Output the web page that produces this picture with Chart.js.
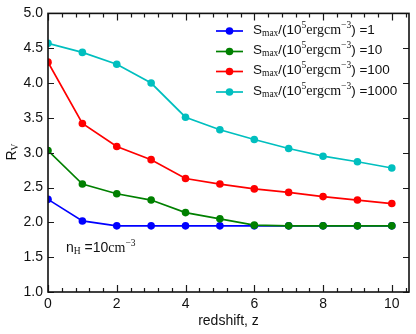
<!DOCTYPE html>
<html>
<head>
<meta charset="utf-8">
<script src="https://cdn.jsdelivr.net/npm/chart.js@4/dist/chart.umd.min.js"></script>
<style>
html,body{margin:0;padding:0;background:#fff;}
#wrap{position:relative;width:416px;height:334px;}
</style>
</head>
<body>
<div id="wrap"><canvas id="c" width="416" height="334"></canvas></div>
<script>
const redshift = [0,1,2,3,4,5,6,7,8,9,10];
const rvS1    = [2.33,2.02,1.95,1.95,1.95,1.95,1.95,1.95,1.95,1.95,1.95];
const rvS10   = [3.03,2.55,2.41,2.32,2.14,2.05,1.96,1.95,1.95,1.95,1.95];
const rvS100  = [4.30,3.42,3.09,2.90,2.63,2.55,2.48,2.43,2.37,2.32,2.27];
const rvS1000 = [4.57,4.44,4.27,4.00,3.51,3.33,3.19,3.06,2.95,2.87,2.78];
const sValues = ['1','10','100','1000'];
const xTickLabels = [0,2,4,6,8,10];
const yTickLabels = [1.0,1.5,2.0,2.5,3.0,3.5,4.0,4.5,5.0];
const colors = ['#0000ff','#008000','#ff0000','#00bfbf'];

const SANS = '"Liberation Sans", Arial, sans-serif';
const SERIF = '"Liberation Serif", "Times New Roman", serif';

function mk(i, data){
  return {
    label: 'S_max/(10^5 ergcm^-3) =' + sValues[i],
    data: redshift.map((z,k)=>({x:z,y:data[k]})),
    borderColor: colors[i], backgroundColor: colors[i],
    borderWidth: 1.7, pointRadius: 3.8, pointHoverRadius: 3.8,
    pointBorderWidth: 0, tension: 0, order: 4-i
  };
}

function rich(ctx, x, y, segs){
  ctx.textBaseline = 'middle';
  ctx.textAlign = 'left';
  for (const s of segs){
    ctx.font = s.f;
    ctx.fillText(s.t, x, y + (s.dy||0));
    x += ctx.measureText(s.t).width;
  }
  return x;
}

const decor = {
  id:'decor',
  afterDraw(chart){
    const ctx = chart.ctx;
    const a = chart.chartArea;
    const xs = chart.scales.x, ys = chart.scales.y;
    ctx.save();
    ctx.strokeStyle = '#1a1a1a';
    ctx.lineWidth = 1.2;
    ctx.beginPath();
    for (let k=0;k<=26;k++){
      const v = k*0.4;
      const px = Math.round(xs.getPixelForValue(v))+0.5;
      const major = (k%5===0);
      const len = major ? 7 : 4;
      ctx.moveTo(px, a.bottom); ctx.lineTo(px, a.bottom-len);
      ctx.moveTo(px, a.top); ctx.lineTo(px, a.top+len);
    }
    for (const v of yTickLabels){
      const py = Math.round(ys.getPixelForValue(v))+0.5;
      ctx.moveTo(a.left, py); ctx.lineTo(a.left+6, py);
      ctx.moveTo(a.right, py); ctx.lineTo(a.right-6, py);
    }
    ctx.stroke();
    ctx.lineWidth = 1.6;
    ctx.strokeStyle = '#111';
    ctx.strokeRect(a.left, a.top, a.right-a.left, a.bottom-a.top);

    // legend
    const rows = [31, 51.5, 71.5, 92];
    for (let i=0;i<4;i++){
      const y = rows[i];
      ctx.strokeStyle = colors[i];
      ctx.lineWidth = 1.7;
      ctx.beginPath(); ctx.moveTo(216,y); ctx.lineTo(243,y); ctx.stroke();
      ctx.fillStyle = colors[i];
      ctx.beginPath(); ctx.arc(229.5,y,3.8,0,Math.PI*2); ctx.fill();
      ctx.fillStyle = '#111';
      rich(ctx, 253, y-1, [
        {t:'S', f:'13.5px '+SANS},
        {t:'max', f:'9.5px '+SERIF, dy:3},
        {t:'/(10', f:'13.5px '+SANS},
        {t:'5', f:'9.5px '+SERIF, dy:-5},
        {t:'ergcm', f:'14px '+SERIF},
        {t:'\u22123', f:'9.5px '+SERIF, dy:-5},
        {t:') =' + sValues[i], f:'13.5px '+SANS}
      ]);
    }
    // annotation
    ctx.fillStyle = '#111';
    rich(ctx, 66, 248, [
      {t:'n', f:'14px '+SANS},
      {t:'H', f:'9.5px '+SERIF, dy:3},
      {t:' =10', f:'14px '+SANS},
      {t:'cm', f:'14px '+SERIF},
      {t:'\u22123', f:'9.5px '+SERIF, dy:-5}
    ]);
    // x title
    ctx.font = '14px '+SANS;
    ctx.textAlign = 'center';
    ctx.textBaseline = 'middle';
    ctx.fillText('redshift, z', (a.left+a.right)/2, 321);
    // y title
    ctx.translate(12, 152);
    ctx.rotate(-Math.PI/2);
    ctx.font='14px '+SANS;
    const wR = ctx.measureText('R').width;
    ctx.font = '9.5px '+SERIF;
    const wV = ctx.measureText('V').width;
    rich(ctx, -(wR+wV)/2, 0, [
      {t:'R', f:'14px '+SANS},
      {t:'V', f:'9.5px '+SERIF, dy:3}
    ]);
    ctx.restore();
  }
};

new Chart(document.getElementById('c'), {
  type:'line',
  data:{ datasets:[mk(0,rvS1), mk(1,rvS10), mk(2,rvS100), mk(3,rvS1000)] },
  options:{
    responsive:false, animation:false,
    layout:{padding:{top:13,right:7,left:0,bottom:0}},
    plugins:{legend:{display:false}, tooltip:{enabled:false}},
    scales:{
      x:{
        type:'linear', min:0, max:10.5,
        grid:{display:false, drawTicks:false}, border:{display:false},
        afterBuildTicks(s){ s.ticks = xTickLabels.map(v=>({value:v})); },
        afterFit(s){ s.height = 42; },
        ticks:{ padding:4, color:'#111', font:{family:SANS,size:14}, maxRotation:0, autoSkip:false,
          callback:(v)=>String(v) }
      },
      y:{
        type:'linear', min:1, max:5,
        grid:{display:false, drawTicks:false}, border:{display:false},
        afterBuildTicks(s){ s.ticks = yTickLabels.map(v=>({value:v})); },
        afterFit(s){ s.width = 48; },
        ticks:{ padding:5, color:'#111', font:{family:SANS,size:14}, autoSkip:false,
          callback:(v)=>Number(v).toFixed(1) }
      }
    }
  },
  plugins:[decor]
});
</script>
</body>
</html>
